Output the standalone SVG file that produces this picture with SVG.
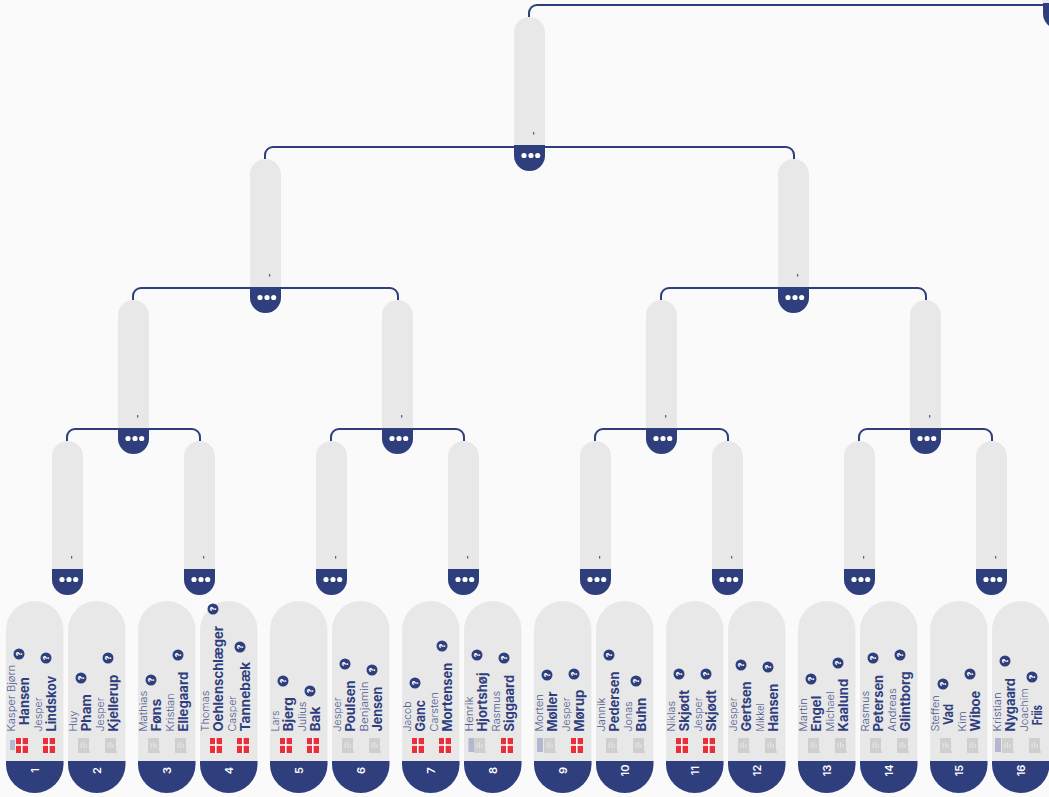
<svg xmlns="http://www.w3.org/2000/svg" xmlns:xlink="http://www.w3.org/1999/xlink" width="1049" height="797" viewBox="0 0 1049 797">
<style>
text{font-family:"Inter","Open Sans","DejaVu Sans",sans-serif;fill:#2f3e7d}
.f{font-size:10.5px;font-weight:300;opacity:.85}
.l{font-size:13px;font-weight:700}
.n{font-size:11px;font-weight:600;fill:#fff;text-anchor:middle}
.q{font-size:8px;font-weight:800;fill:#fff;text-anchor:middle}
.c{fill:none;stroke:#2f3e7d;stroke-width:2}
.g{fill:#e8e8e8}
.b{fill:#2f3e7d}
.w{fill:#fff}
.t{fill:#8f96bf;opacity:.6}
</style>
<defs>
<g id="pill"><rect class="g" width="57.5" height="192" y="601" rx="28.75"/><path class="b" d="M0 761h57.5v3.25a28.75 28.75 0 0 1-57.5 0z"/></g>
<g id="node"><rect class="g" width="31" height="154" rx="15.5"/><path class="b" d="M0 128h31v10.5a15.5 15.5 0 0 1-31 0z"/><circle class="w" cx="10" cy="138.5" r="2.6"/><circle class="w" cx="17" cy="138.5" r="2.6"/><circle class="w" cx="23.7" cy="138.5" r="2.6"/><rect class="b" x="19.2" y="115" width="1" height="2.6"/></g>
<g id="flag"><rect width="12" height="15" fill="#e9303a"/><rect x="5" width="1.6" height="15" class="w"/><rect y="6.2" width="12" height="1.6" class="w"/></g>
<g id="ph"><rect width="11" height="14" fill="#cfcfcf"/><rect y="13" x="0" width="12" height="2" fill="#cfcfcf"/><rect x="2.5" y="5" width="1.2" height="5" fill="#e4e4e4"/><rect x="5" y="4" width="1.2" height="6" fill="#e4e4e4"/><rect x="7.5" y="6" width="1.2" height="4" fill="#e4e4e4"/></g>
<g id="bdg"><circle r="5.5" class="b"/><text class="q" transform="translate(2.8 0) rotate(-90)">?</text></g>
</defs>
<rect width="1049" height="797" fill="#fafafa"/>
<g id="connectors">
<path class="c" d="M529 17v-4a8 8 0 0 1 8-8H1049"/>
<path class="c" d="M265 159v-4a8 8 0 0 1 8-8H786a8 8 0 0 1 8 8v4"/>
<path class="c" d="M133 300v-4a8 8 0 0 1 8-8H390a8 8 0 0 1 8 8v4"/>
<path class="c" d="M661 300v-4a8 8 0 0 1 8-8H918a8 8 0 0 1 8 8v4"/>
<path class="c" d="M67 441v-4a8 8 0 0 1 8-8H192a8 8 0 0 1 8 8v4"/>
<path class="c" d="M331 441v-4a8 8 0 0 1 8-8H456a8 8 0 0 1 8 8v4"/>
<path class="c" d="M595 441v-4a8 8 0 0 1 8-8H720a8 8 0 0 1 8 8v4"/>
<path class="c" d="M859 441v-4a8 8 0 0 1 8-8H984a8 8 0 0 1 8 8v4"/>
</g>
<g id="final"><use href="#node" transform="translate(1043 -125)"/></g>
<g id="semi-1"><use href="#node" transform="translate(514 17)"/></g>
<g id="quarter-1"><use href="#node" transform="translate(250 159)"/></g>
<g id="quarter-2"><use href="#node" transform="translate(778 159)"/></g>
<g id="r2-1"><use href="#node" transform="translate(118 300)"/></g>
<g id="r2-2"><use href="#node" transform="translate(382 300)"/></g>
<g id="r2-3"><use href="#node" transform="translate(646 300)"/></g>
<g id="r2-4"><use href="#node" transform="translate(910 300)"/></g>
<g id="r1-1"><use href="#node" transform="translate(52 441)"/></g>
<g id="r1-2"><use href="#node" transform="translate(184 441)"/></g>
<g id="r1-3"><use href="#node" transform="translate(316 441)"/></g>
<g id="r1-4"><use href="#node" transform="translate(448 441)"/></g>
<g id="r1-5"><use href="#node" transform="translate(580 441)"/></g>
<g id="r1-6"><use href="#node" transform="translate(712 441)"/></g>
<g id="r1-7"><use href="#node" transform="translate(844 441)"/></g>
<g id="r1-8"><use href="#node" transform="translate(976 441)"/></g>

<g id="m1" transform="translate(6 0)"><use href="#pill"/><rect class="t" x="4" y="740" width="5" height="10"/><use href="#flag" x="10" y="738"/><use href="#flag" x="37" y="738"/>
<text class="f" transform="translate(9 731.5) rotate(-90)" textLength="66.7" lengthAdjust="spacingAndGlyphs">Kasper Bjørn</text><text class="l" transform="translate(23 725) rotate(-90)" textLength="47.7" lengthAdjust="spacingAndGlyphs">Hansen</text><use href="#bdg" x="13" y="654"/>
<text class="f" transform="translate(36 731.5) rotate(-90)" textLength="34" lengthAdjust="spacingAndGlyphs">Jesper</text><text class="l" transform="translate(50 731.5) rotate(-90)" textLength="55.7" lengthAdjust="spacingAndGlyphs">Lindskov</text><use href="#bdg" x="40" y="658"/>
<text class="n" transform="translate(32.75 770.5) rotate(-90)">1</text></g>

<g id="m2" transform="translate(68 0)"><use href="#pill"/><use href="#ph" x="10" y="738"/><use href="#ph" x="37" y="738"/>
<text class="f" transform="translate(9 731.5) rotate(-90)" textLength="21" lengthAdjust="spacingAndGlyphs">Huy</text><text class="l" transform="translate(23 731.5) rotate(-90)" textLength="37.3" lengthAdjust="spacingAndGlyphs">Pham</text><use href="#bdg" x="13" y="678"/>
<text class="f" transform="translate(36 731.5) rotate(-90)" textLength="34" lengthAdjust="spacingAndGlyphs">Jesper</text><text class="l" transform="translate(50 731.5) rotate(-90)" textLength="56.7" lengthAdjust="spacingAndGlyphs">Kjellerup</text><use href="#bdg" x="40" y="658"/>
<text class="n" transform="translate(32.75 770.5) rotate(-90)">2</text></g>

<g id="m3" transform="translate(138 0)"><use href="#pill"/><use href="#ph" x="10" y="738"/><use href="#ph" x="37" y="738"/>
<text class="f" transform="translate(9 731.5) rotate(-90)" textLength="40.7" lengthAdjust="spacingAndGlyphs">Mathias</text><text class="l" transform="translate(23 731.5) rotate(-90)" textLength="32.7" lengthAdjust="spacingAndGlyphs">Føns</text><use href="#bdg" x="13" y="680"/>
<text class="f" transform="translate(36 731.5) rotate(-90)" textLength="38.3" lengthAdjust="spacingAndGlyphs">Kristian</text><text class="l" transform="translate(50 731.5) rotate(-90)" textLength="59.7" lengthAdjust="spacingAndGlyphs">Ellegaard</text><use href="#bdg" x="40" y="655"/>
<text class="n" transform="translate(32.75 770.5) rotate(-90)">3</text></g>

<g id="m4" transform="translate(200 0)"><use href="#pill"/><use href="#flag" x="10" y="738"/><use href="#flag" x="37" y="738"/>
<text class="f" transform="translate(9 731.5) rotate(-90)" textLength="41" lengthAdjust="spacingAndGlyphs">Thomas</text><text class="l" transform="translate(23 731.5) rotate(-90)" textLength="105.7" lengthAdjust="spacingAndGlyphs">Oehlenschlæger</text><use href="#bdg" x="13" y="609"/>
<text class="f" transform="translate(36 731.5) rotate(-90)" textLength="35.7" lengthAdjust="spacingAndGlyphs">Casper</text><text class="l" transform="translate(50 731.5) rotate(-90)" textLength="69.7" lengthAdjust="spacingAndGlyphs">Tannebæk</text><use href="#bdg" x="40" y="647"/>
<text class="n" transform="translate(32.75 770.5) rotate(-90)">4</text></g>

<g id="m5" transform="translate(270 0)"><use href="#pill"/><use href="#flag" x="10" y="738"/><use href="#flag" x="37" y="738"/>
<text class="f" transform="translate(9 731.5) rotate(-90)" textLength="21" lengthAdjust="spacingAndGlyphs">Lars</text><text class="l" transform="translate(23 731.5) rotate(-90)" textLength="34.3" lengthAdjust="spacingAndGlyphs">Bjerg</text><use href="#bdg" x="13" y="681"/>
<text class="f" transform="translate(36 731.5) rotate(-90)" textLength="30" lengthAdjust="spacingAndGlyphs">Julius</text><text class="l" transform="translate(50 731.5) rotate(-90)" textLength="25" lengthAdjust="spacingAndGlyphs">Bak</text><use href="#bdg" x="40" y="691"/>
<text class="n" transform="translate(32.75 770.5) rotate(-90)">5</text></g>

<g id="m6" transform="translate(332 0)"><use href="#pill"/><use href="#ph" x="10" y="738"/><use href="#ph" x="37" y="738"/>
<text class="f" transform="translate(9 731.5) rotate(-90)" textLength="34" lengthAdjust="spacingAndGlyphs">Jesper</text><text class="l" transform="translate(23 731.5) rotate(-90)" textLength="51" lengthAdjust="spacingAndGlyphs">Poulsen</text><use href="#bdg" x="13" y="664"/>
<text class="f" transform="translate(36 731.5) rotate(-90)" textLength="50" lengthAdjust="spacingAndGlyphs">Benjamin</text><text class="l" transform="translate(50 731.5) rotate(-90)" textLength="44.7" lengthAdjust="spacingAndGlyphs">Jensen</text><use href="#bdg" x="40" y="670"/>
<text class="n" transform="translate(32.75 770.5) rotate(-90)">6</text></g>

<g id="m7" transform="translate(402 0)"><use href="#pill"/><use href="#flag" x="10" y="738"/><use href="#flag" x="37" y="738"/>
<text class="f" transform="translate(9 731.5) rotate(-90)" textLength="30" lengthAdjust="spacingAndGlyphs">Jacob</text><text class="l" transform="translate(23 731.5) rotate(-90)" textLength="31.7" lengthAdjust="spacingAndGlyphs">Ganc</text><use href="#bdg" x="13" y="683"/>
<text class="f" transform="translate(36 731.5) rotate(-90)" textLength="39.3" lengthAdjust="spacingAndGlyphs">Carsten</text><text class="l" transform="translate(50 731.5) rotate(-90)" textLength="68.7" lengthAdjust="spacingAndGlyphs">Mortensen</text><use href="#bdg" x="40" y="646"/>
<text class="n" transform="translate(32.75 770.5) rotate(-90)">7</text></g>

<g id="m8" transform="translate(464 0)"><use href="#pill"/><rect class="t" x="4.5" y="738" width="6" height="14"/><use href="#ph" x="10" y="738"/><use href="#flag" x="37" y="738"/>
<text class="f" transform="translate(9 731.5) rotate(-90)" textLength="35" lengthAdjust="spacingAndGlyphs">Henrik</text><text class="l" transform="translate(23 731.5) rotate(-90)" textLength="59" lengthAdjust="spacingAndGlyphs">Hjortshøj</text><use href="#bdg" x="13" y="655"/>
<text class="f" transform="translate(36 731.5) rotate(-90)" textLength="40.7" lengthAdjust="spacingAndGlyphs">Rasmus</text><text class="l" transform="translate(50 731.5) rotate(-90)" textLength="56.7" lengthAdjust="spacingAndGlyphs">Siggaard</text><use href="#bdg" x="40" y="658"/>
<text class="n" transform="translate(32.75 770.5) rotate(-90)">8</text></g>

<g id="m9" transform="translate(534 0)"><use href="#pill"/><rect class="t" x="3" y="738" width="6" height="14"/><use href="#ph" x="10" y="738"/><use href="#flag" x="37" y="738"/>
<text class="f" transform="translate(9 731.5) rotate(-90)" textLength="37.3" lengthAdjust="spacingAndGlyphs">Morten</text><text class="l" transform="translate(23 731.5) rotate(-90)" textLength="40" lengthAdjust="spacingAndGlyphs">Møller</text><use href="#bdg" x="13" y="675"/>
<text class="f" transform="translate(36 731.5) rotate(-90)" textLength="34" lengthAdjust="spacingAndGlyphs">Jesper</text><text class="l" transform="translate(50 731.5) rotate(-90)" textLength="41.7" lengthAdjust="spacingAndGlyphs">Mørup</text><use href="#bdg" x="40" y="674"/>
<text class="n" transform="translate(32.75 770.5) rotate(-90)">9</text></g>

<g id="m10" transform="translate(596 0)"><use href="#pill"/><use href="#ph" x="10" y="738"/><use href="#ph" x="37" y="738"/>
<text class="f" transform="translate(9 731.5) rotate(-90)" textLength="34" lengthAdjust="spacingAndGlyphs">Jannik</text><text class="l" transform="translate(23 731.5) rotate(-90)" textLength="60" lengthAdjust="spacingAndGlyphs">Pedersen</text><use href="#bdg" x="13" y="655"/>
<text class="f" transform="translate(36 731.5) rotate(-90)" textLength="30" lengthAdjust="spacingAndGlyphs">Jonas</text><text class="l" transform="translate(50 731.5) rotate(-90)" textLength="34" lengthAdjust="spacingAndGlyphs">Buhn</text><use href="#bdg" x="40" y="681"/>
<text class="n" transform="translate(32.75 770.5) rotate(-90)">10</text></g>

<g id="m11" transform="translate(666 0)"><use href="#pill"/><use href="#flag" x="10" y="738"/><use href="#flag" x="37" y="738"/>
<text class="f" transform="translate(9 731.5) rotate(-90)" textLength="30.7" lengthAdjust="spacingAndGlyphs">Niklas</text><text class="l" transform="translate(23 731.5) rotate(-90)" textLength="41.7" lengthAdjust="spacingAndGlyphs">Skjødt</text><use href="#bdg" x="13" y="674"/>
<text class="f" transform="translate(36 731.5) rotate(-90)" textLength="34" lengthAdjust="spacingAndGlyphs">Jesper</text><text class="l" transform="translate(50 731.5) rotate(-90)" textLength="41.7" lengthAdjust="spacingAndGlyphs">Skjødt</text><use href="#bdg" x="40" y="674"/>
<text class="n" transform="translate(32.75 770.5) rotate(-90)">11</text></g>

<g id="m12" transform="translate(728 0)"><use href="#pill"/><use href="#ph" x="10" y="738"/><use href="#ph" x="37" y="738"/>
<text class="f" transform="translate(9 731.5) rotate(-90)" textLength="34" lengthAdjust="spacingAndGlyphs">Jesper</text><text class="l" transform="translate(23 731.5) rotate(-90)" textLength="50" lengthAdjust="spacingAndGlyphs">Gertsen</text><use href="#bdg" x="13" y="665"/>
<text class="f" transform="translate(36 731.5) rotate(-90)" textLength="28.3" lengthAdjust="spacingAndGlyphs">Mikkel</text><text class="l" transform="translate(50 731.5) rotate(-90)" textLength="47.7" lengthAdjust="spacingAndGlyphs">Hansen</text><use href="#bdg" x="40" y="667"/>
<text class="n" transform="translate(32.75 770.5) rotate(-90)">12</text></g>

<g id="m13" transform="translate(798 0)"><use href="#pill"/><use href="#ph" x="10" y="738"/><use href="#ph" x="37" y="738"/>
<text class="f" transform="translate(9 731.5) rotate(-90)" textLength="33.3" lengthAdjust="spacingAndGlyphs">Martin</text><text class="l" transform="translate(23 731.5) rotate(-90)" textLength="35.7" lengthAdjust="spacingAndGlyphs">Engel</text><use href="#bdg" x="13" y="679"/>
<text class="f" transform="translate(36 731.5) rotate(-90)" textLength="40" lengthAdjust="spacingAndGlyphs">Michael</text><text class="l" transform="translate(50 731.5) rotate(-90)" textLength="52.7" lengthAdjust="spacingAndGlyphs">Kaalund</text><use href="#bdg" x="40" y="663"/>
<text class="n" transform="translate(32.75 770.5) rotate(-90)">13</text></g>

<g id="m14" transform="translate(860 0)"><use href="#pill"/><use href="#ph" x="10" y="738"/><use href="#ph" x="37" y="738"/>
<text class="f" transform="translate(9 731.5) rotate(-90)" textLength="40.7" lengthAdjust="spacingAndGlyphs">Rasmus</text><text class="l" transform="translate(23 731.5) rotate(-90)" textLength="56.7" lengthAdjust="spacingAndGlyphs">Petersen</text><use href="#bdg" x="13" y="658"/>
<text class="f" transform="translate(36 731.5) rotate(-90)" textLength="43.3" lengthAdjust="spacingAndGlyphs">Andreas</text><text class="l" transform="translate(50 731.5) rotate(-90)" textLength="60" lengthAdjust="spacingAndGlyphs">Glintborg</text><use href="#bdg" x="40" y="655"/>
<text class="n" transform="translate(32.75 770.5) rotate(-90)">14</text></g>

<g id="m15" transform="translate(930 0)"><use href="#pill"/><use href="#ph" x="10" y="738"/><use href="#ph" x="37" y="738"/>
<text class="f" transform="translate(9 731.5) rotate(-90)" textLength="36.3" lengthAdjust="spacingAndGlyphs">Steffen</text><text class="l" transform="translate(23 725) rotate(-90)" textLength="21" lengthAdjust="spacingAndGlyphs">Vad</text><use href="#bdg" x="13" y="684"/>
<text class="f" transform="translate(36 731.5) rotate(-90)" textLength="20" lengthAdjust="spacingAndGlyphs">Kim</text><text class="l" transform="translate(50 731.5) rotate(-90)" textLength="40.7" lengthAdjust="spacingAndGlyphs">Wiboe</text><use href="#bdg" x="40" y="674"/>
<text class="n" transform="translate(32.75 770.5) rotate(-90)">15</text></g>

<g id="m16" transform="translate(992 0)"><use href="#pill"/><rect class="t" x="3" y="738" width="6" height="14"/><use href="#ph" x="10" y="738"/><use href="#ph" x="37" y="738"/>
<text class="f" transform="translate(9 731.5) rotate(-90)" textLength="39.3" lengthAdjust="spacingAndGlyphs">Kristian</text><text class="l" transform="translate(23 731.5) rotate(-90)" textLength="53.3" lengthAdjust="spacingAndGlyphs">Nygaard</text><use href="#bdg" x="13" y="661"/>
<text class="f" transform="translate(36 731.5) rotate(-90)" textLength="43.3" lengthAdjust="spacingAndGlyphs">Joachim</text><text class="l" transform="translate(50 725) rotate(-90)" textLength="20" lengthAdjust="spacingAndGlyphs">Friis</text><use href="#bdg" x="40" y="677"/>
<text class="n" transform="translate(32.75 770.5) rotate(-90)">16</text></g>
</svg>
